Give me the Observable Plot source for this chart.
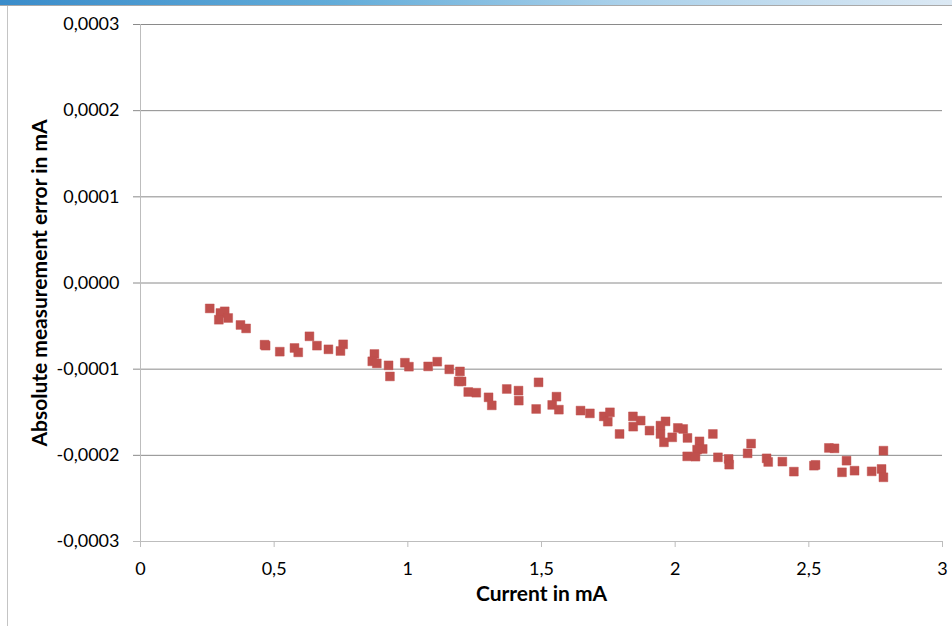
<!DOCTYPE html>
<html>
<head>
<meta charset="utf-8">
<script src="https://cdn.jsdelivr.net/npm/d3@7"></script>
<script src="https://cdn.jsdelivr.net/npm/@observablehq/plot@0.6"></script>
<style>
  html, body { margin: 0; padding: 0; background: #fff; }
  #wrap { position: relative; width: 952px; height: 626px; overflow: hidden; background: #fff; }
  #chart { position: absolute; left: 0; top: 0; }
  #band { position: absolute; left: 0; top: 0; width: 952px; height: 5px;
          background: linear-gradient(to right, #3a8cca 0%, #62acd9 35%, #a9d0ea 65%, #dce9f4 100%);
          border-bottom: 1px solid #a9a9a9; }
  #edge { position: absolute; left: 7px; top: 6px; width: 1px; height: 620px; background: #c4c4c4; }
</style>
</head>
<body>
<div id="wrap">
  <div id="chart"></div>
  <div id="band"></div>
  <div id="edge"></div>
</div>
<script>
// Measured current (mA) and absolute measurement error (mA)
const current = [
  0.259, 0.315, 0.299, 0.293, 0.328, 0.374, 0.395, 0.464, 0.468, 0.521,
  0.576, 0.590, 0.632, 0.660, 0.703, 0.758, 0.748, 0.875, 0.867, 0.884,
  0.928, 0.933, 0.989, 1.004, 1.076, 1.110, 1.155, 1.195, 1.201, 1.190,
  1.226, 1.256, 1.302, 1.314, 1.370, 1.414, 1.415, 1.489, 1.480, 1.556,
  1.540, 1.565, 1.646, 1.681, 1.733, 1.756, 1.748, 1.792, 1.842, 1.871,
  1.843, 1.904, 1.964, 1.945, 1.945, 1.958, 1.989, 2.010, 2.030, 2.046,
  2.091, 2.103, 2.082, 2.045, 2.076, 2.141, 2.160, 2.200, 2.202, 2.284,
  2.271, 2.342, 2.348, 2.401, 2.444, 2.519, 2.525, 2.575, 2.596, 2.641,
  2.624, 2.671, 2.735, 2.779, 2.772, 2.779
];
const error = [
  -0.0000295, -0.0000329, -0.0000348, -0.0000426, -0.0000406, -0.0000487, -0.0000527, -0.0000716, -0.0000727, -0.0000797,
  -0.0000754, -0.0000805, -0.0000619, -0.0000727, -0.0000770, -0.0000712, -0.0000789, -0.0000824, -0.0000909, -0.0000933,
  -0.0000956, -0.0001084, -0.0000925, -0.0000971, -0.0000968, -0.0000913, -0.0001002, -0.0001026, -0.0001142, -0.0001142,
  -0.0001265, -0.0001273, -0.0001327, -0.0001420, -0.0001230, -0.0001249, -0.0001365, -0.0001153, -0.0001462, -0.0001319,
  -0.0001415, -0.0001470, -0.0001481, -0.0001513, -0.0001548, -0.0001501, -0.0001609, -0.0001752, -0.0001548, -0.0001597,
  -0.0001667, -0.0001713, -0.0001606, -0.0001655, -0.0001752, -0.0001849, -0.0001791, -0.0001682, -0.0001694, -0.0001798,
  -0.0001838, -0.0001926, -0.0001934, -0.0002012, -0.0002015, -0.0001752, -0.0002023, -0.0002042, -0.0002108, -0.0001864,
  -0.0001977, -0.0002035, -0.0002077, -0.0002073, -0.0002189, -0.0002120, -0.0002111, -0.0001914, -0.0001919, -0.0002062,
  -0.0002197, -0.0002178, -0.0002186, -0.0001946, -0.0002158, -0.0002255
];

const xTicks = [0, 0.5, 1, 1.5, 2, 2.5, 3];
const yTicks = [-0.0003, -0.0002, -0.0001, 0, 0.0001, 0.0002, 0.0003];
const xTitle = "Current in mA";
const yTitle = "Absolute measurement error in mA";

const points = current.map((c, i) => ({current: c, error: error[i]}));

// decimal comma, plain hyphen for negatives
const locale = d3.formatLocale({decimal: ",", thousands: ".", grouping: [3], currency: ["", ""], minus: "-"});
const fmtY = locale.format(".4f");
const fmtX = locale.format("~g");

const chart = Plot.plot({
  width: 952,
  height: 626,
  marginLeft: 140,
  marginRight: 10,
  marginTop: 24,
  marginBottom: 85,
  style: {fontFamily: "Lato, 'Open Sans', sans-serif", fontSize: "18px", color: "#000", background: "transparent"},
  x: {domain: [0, 3], label: null},
  y: {domain: [-0.0003, 0.0003], label: null},
  marks: [
    // horizontal gridlines, reaching a little past the value axis
    Plot.ruleY(yTicks.filter(d => d > -0.0003), {stroke: "#8a8a8a", strokeWidth: 1, insetLeft: -7}),
    // value axis line
    Plot.ruleX([0], {stroke: "#bdbdbd", strokeWidth: 1, insetBottom: -6}),
    // category axis line
    Plot.ruleY([-0.0003], {stroke: "#bdbdbd", strokeWidth: 1, insetLeft: -7}),
    Plot.axisY({ticks: yTicks, tickFormat: fmtY, tickSize: 0, tickPadding: 21, label: null}),
    Plot.axisX({ticks: xTicks, tickFormat: fmtX, tickSize: 6, tickPadding: 15, stroke: "#bdbdbd", label: null}),
    Plot.dot(points, {
      x: "current", y: "error", symbol: "square", r: 5,
      fill: "#C0504D", stroke: "#C0504D", strokeOpacity: 0.45, strokeWidth: 1
    }),
    Plot.text([xTitle], {frameAnchor: "bottom", textAnchor: "middle", dy: 59, fontWeight: "bold", fontSize: 21, fill: "#000"}),
    Plot.text([yTitle], {frameAnchor: "left", textAnchor: "middle", dx: -100, rotate: -90, fontWeight: "bold", fontSize: 21, fill: "#000"})
  ]
});

document.getElementById("chart").appendChild(chart);
</script>
</body>
</html>
